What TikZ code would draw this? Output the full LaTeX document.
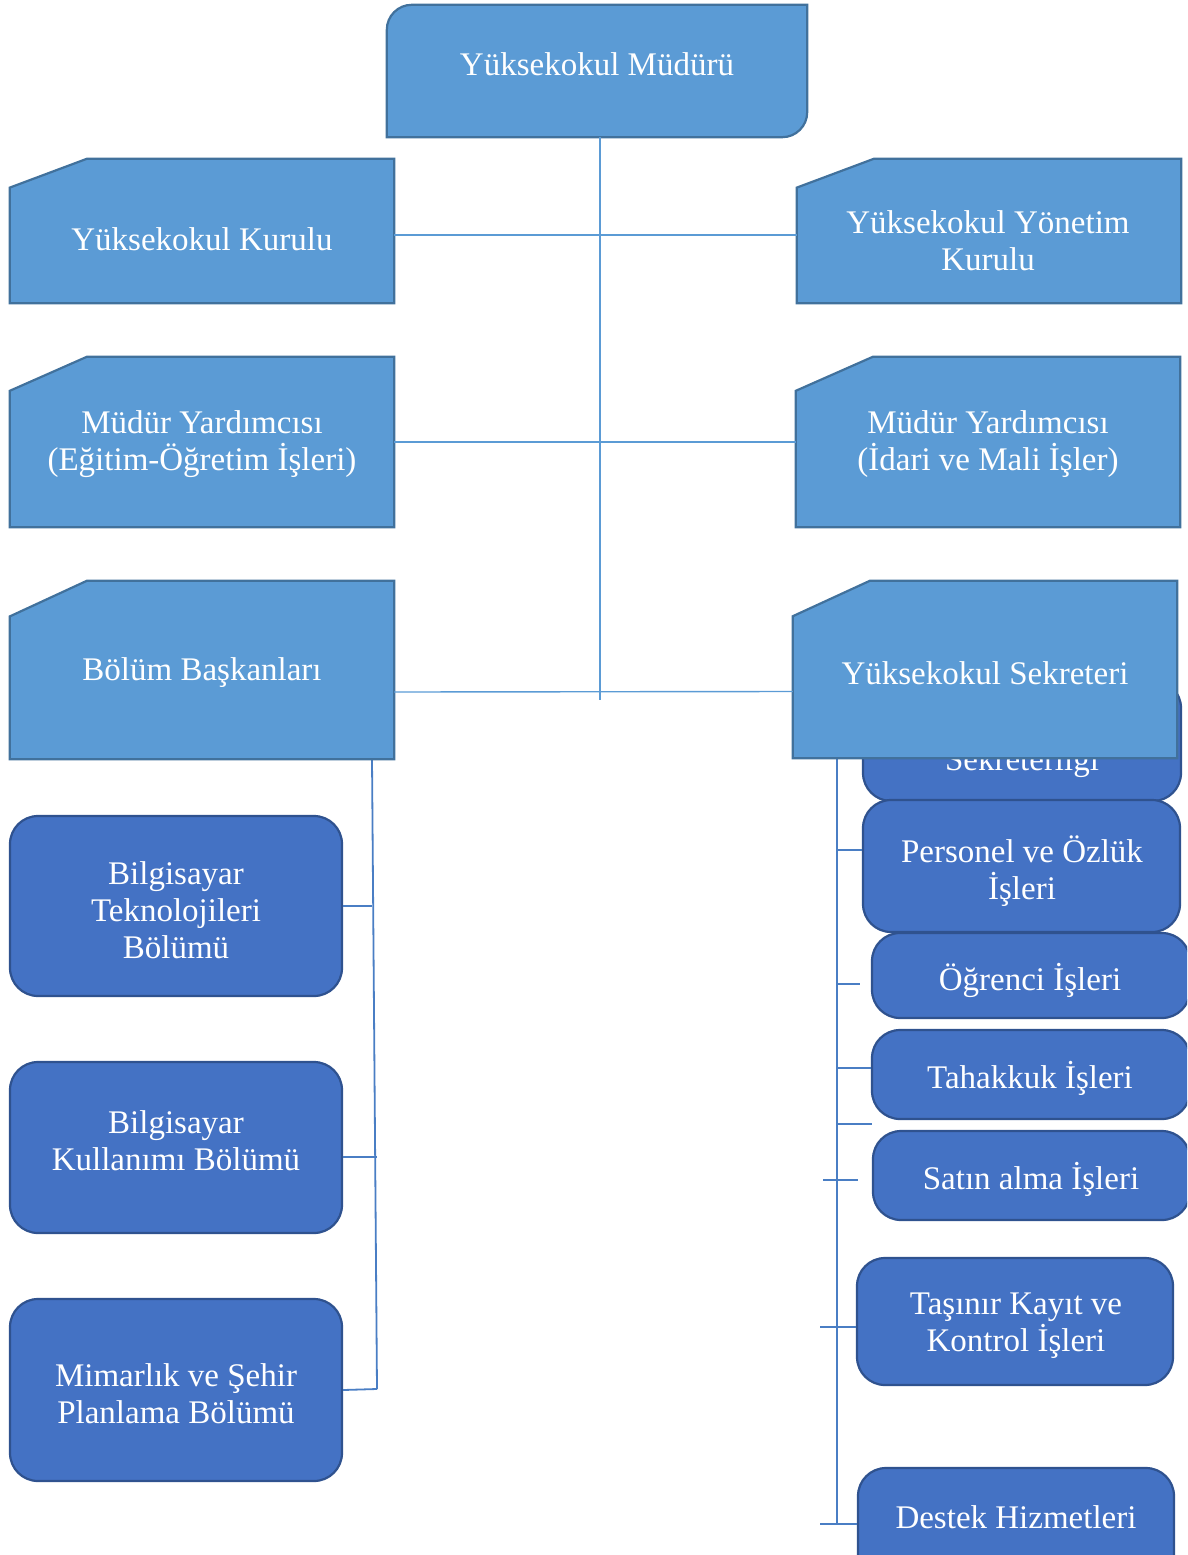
\documentclass[tikz,border=0pt]{standalone}
\usepackage{fontspec}
\setmainfont{Liberation Serif}
\definecolor{lightfill}{HTML}{5B9BD5}
\definecolor{lightline}{HTML}{41719C}
\definecolor{darkfill}{HTML}{4472C4}
\definecolor{darkline}{HTML}{2F528F}
\definecolor{connA}{HTML}{5B9BD5}
\definecolor{connB}{HTML}{4A7EC4}
\tikzset{
  holder/.style={shape=rectangle, inner sep=0pt, draw=none, fill=none},
  lightshape/.style={fill=lightfill, draw=lightline, line width=2.2pt, line join=miter},
  darkbox/.style={shape=rectangle, rounded corners=28pt, fill=darkfill, draw=darkline, line width=2.2pt, inner sep=0pt},
  lbl/.style={text=white, font=\fontsize{33}{37}\selectfont, align=center, inner sep=0pt, yshift=-3pt},
  connA/.style={draw=connA, line width=1.4pt},
  connB/.style={draw=connB, line width=1.8pt},
}
\newcommand\snipbox[5]{%
  \node[holder, minimum width={(#4-#2)*1pt}, minimum height={(#5-#3)*1pt}] (#1) at ({(#2+#4)/2},{-(#3+#5)/2}) {};
  \path[lightshape] ([yshift={-0.2*(#5-#3)*1pt}]#1.north west) -- ([xshift=77pt]#1.north west) -- (#1.north east) -- (#1.south east) -- (#1.south west) -- cycle;
}
\newcommand\roundbox[5]{%
  \node[darkbox, minimum width={(#4-#2)*1pt}, minimum height={(#5-#3)*1pt}] (#1) at ({(#2+#4)/2},{-(#3+#5)/2}) {};
}
\begin{document}
\begin{tikzpicture}[x=1pt,y=1pt]
\path[use as bounding box] (0,0) rectangle (1187,-1555);
\clip (0,0) rectangle (1187,-1555);

% spine coordinates
\coordinate (spineT) at (600,-137);
\coordinate (spineB) at (600,-700);
\coordinate (lb1) at (372,-759);
\coordinate (lb2) at (377,-1389);
\coordinate (rb1) at (837,-759);
\coordinate (rb2) at (837,-1524);

% ---------- boxes ----------
\node[holder, minimum width=420pt, minimum height=132pt] (mudur) at (597,-71) {};
\path[lightshape] (mudur.south west) -- ([yshift=-25pt]mudur.north west)
  arc[start angle=180, end angle=90, radius=25pt] -- (mudur.north east)
  -- ([yshift=25pt]mudur.south east) arc[start angle=0, end angle=-90, radius=25pt] -- cycle;
\node[lbl] (tmudur) at (597,-61) {Yüksekokul Müdürü};

% ---------- connectors ----------
\draw[connA] (spineT) -- (spineB);

\snipbox{kurulu}{10}{159}{394}{303}
\snipbox{yonetim}{797}{159}{1181}{303}
\snipbox{egitim}{10}{357}{394}{527}
\snipbox{idari}{796}{357}{1180}{527}

\draw[connA] ([yshift=-4pt]kurulu.east) -- ([yshift=-4pt]yonetim.west);
\draw[connA] (egitim.east) -- (idari.west);

% left branch
\draw[connB] (lb1) -- (lb2);
\roundbox{bt}{10}{816}{342}{996}
\roundbox{bk}{10}{1062}{342}{1233}
\roundbox{mim}{10}{1299}{342}{1481}
\draw[connB] (bt.east) -- (bt.east -| lb1);
\draw[connB] ([yshift=-9.5pt]bk.east) -- ++(34,0);
\draw[connB] (mim.east) -- (lb2);

% right branch
\draw[connB] (rb1) -- (rb2);
\coordinate (t1) at (837,-850);
\coordinate (t2) at (837,-984);
\coordinate (t2e) at (860,-984);
\coordinate (t3) at (837,-1068);
\coordinate (t4) at (837,-1124);
\coordinate (t4e) at (872,-1124);
\coordinate (t5s) at (823,-1180);
\coordinate (t5e) at (858,-1180);
\coordinate (t6s) at (820,-1327);
\coordinate (t7s) at (820,-1524);

\roundbox{skl}{863}{680}{1181}{801}
\node[lbl, anchor=base] (tskl) at (1022,-767) {Sekreterliği};
\roundbox{pers}{863}{800}{1180}{932}
\roundbox{ogr}{872}{933}{1190}{1018}
\roundbox{tah}{872}{1030}{1190}{1119}
\roundbox{sat}{873}{1131}{1190}{1220}
\roundbox{tas}{857}{1258}{1173}{1385}
\roundbox{des}{858}{1468}{1174}{1600}

\draw[connB] (t1) -- (t1 -| pers.west);
\draw[connB] (t2) -- (t2e);
\draw[connB] (t3) -- (t3 -| tah.west);
\draw[connB] (t4) -- (t4e);
\draw[connB] (t5s) -- (t5e);
\draw[connB] (t6s) -- (t6s -| tas.west);
\draw[connB] (t7s) -- (t7s -| des.west);

\snipbox{bolum}{10}{581}{394}{759}
\snipbox{sek}{793}{581}{1177}{758}
\draw[connA] ([yshift=-22pt]bolum.east) -- ([yshift=-22pt]sek.west);

% ---------- texts ----------
\node[lbl] (tkurulu) at (202,-236) {Yüksekokul Kurulu};
\node[lbl] (tyonetim) at (988,-238) {Yüksekokul Yönetim\\Kurulu};
\node[lbl] (tegitim) at (202,-441) {Müdür Yardımcısı\\(Eğitim-Öğretim İşleri)};
\node[lbl] (tidari) at (988,-441) {Müdür Yardımcısı\\(İdari ve Mali İşler)};
\node[lbl] (tbolum) at (202,-670) {Bölüm Başkanları};
\node[lbl] (tsek) at (985,-670) {Yüksekokul Sekreteri};

\node[lbl] (tbt) at (176,-907) {Bilgisayar\\Teknolojileri\\Bölümü};
\node[lbl] (tbk) at (176,-1138) {Bilgisayar\\Kullanımı Bölümü};
\node[lbl] (tmim) at (176,-1391) {Mimarlık ve Şehir\\Planlama Bölümü};

\node[lbl] (tpers) at (1022,-868) {Personel ve Özlük\\İşleri};
\node[lbl] (togr) at (1030,-977) {Öğrenci İşleri};
\node[lbl] (ttah) at (1030,-1075) {Tahakkuk İşleri};
\node[lbl] (tsat) at (1031,-1176) {Satın alma İşleri};
\node[lbl] (ttas) at (1016,-1323) {Taşınır Kayıt ve\\Kontrol İşleri};
\node[lbl] (tdes) at (1016,-1514) {Destek Hizmetleri};
\end{tikzpicture}
\end{document}
